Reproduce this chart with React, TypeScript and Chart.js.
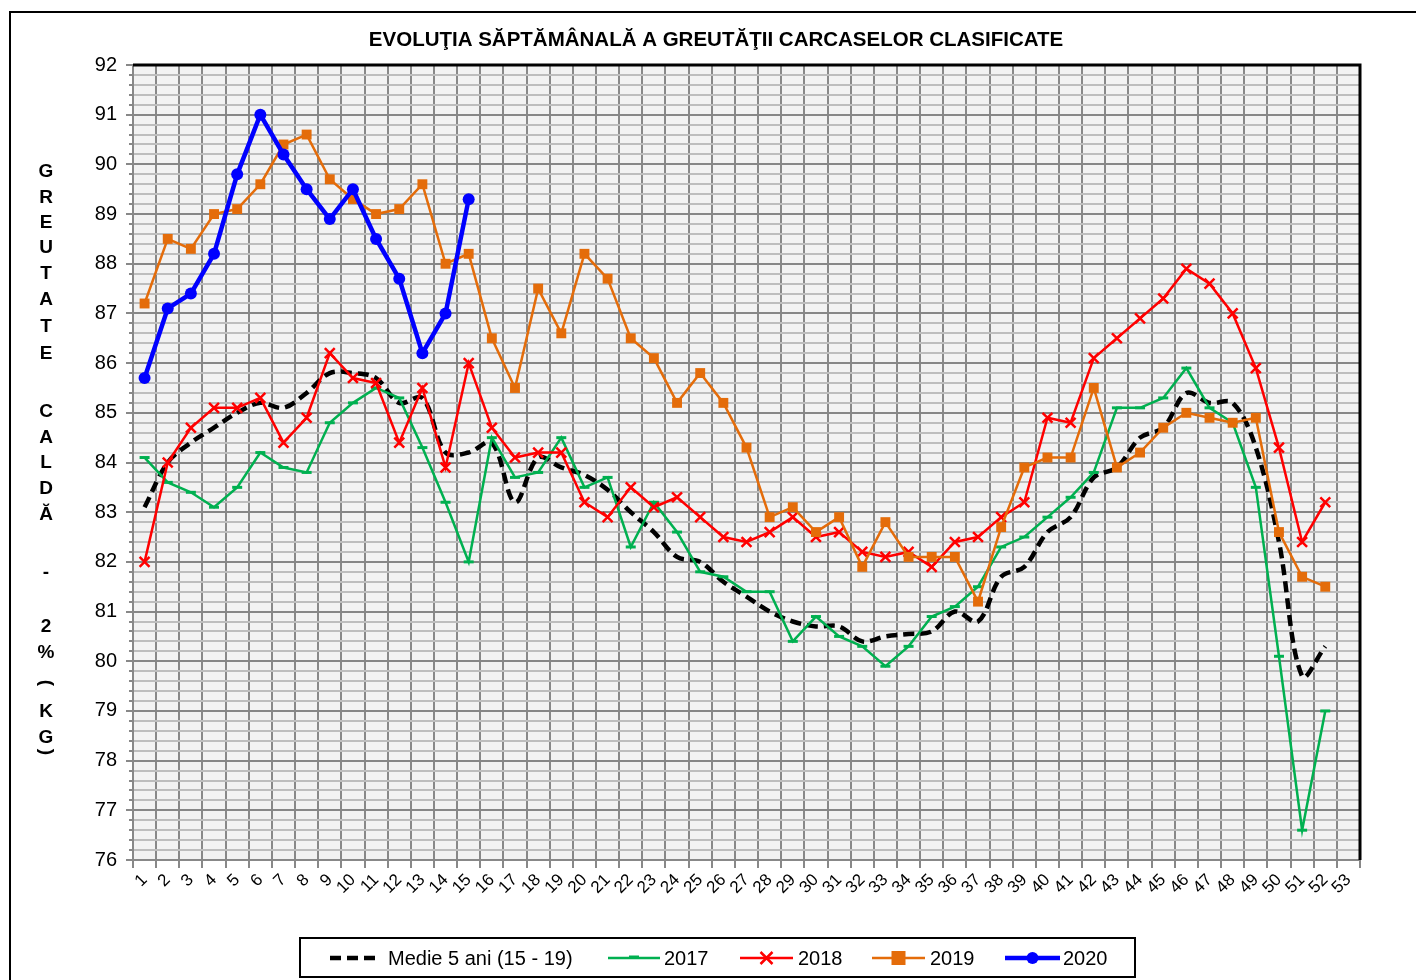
import React, { useEffect, useRef } from 'react';
import { Chart, registerables } from 'chart.js';

Chart.register(...registerables);

const weeks = ['1','2','3','4','5','6','7','8','9','10','11','12','13','14','15','16','17','18','19','20','21','22','23','24','25','26','27','28','29','30','31','32','33','34','35','36','37','38','39','40','41','42','43','44','45','46','47','48','49','50','51','52','53'];

const medie5ani = [83.1, 84.0, 84.4, 84.7, 85.0, 85.2, 85.1, 85.4, 85.8, 85.8, 85.7, 85.2, 85.3, 84.2, 84.2, 84.4, 83.2, 84.1, 83.9, 83.75, 83.45, 83.0, 82.6, 82.1, 82.0, 81.6, 81.3, 81.0, 80.8, 80.7, 80.7, 80.4, 80.5, 80.55, 80.6, 81.0, 80.8, 81.7, 81.9, 82.6, 82.9, 83.7, 83.9, 84.5, 84.7, 85.4, 85.2, 85.2, 84.3, 82.4, 79.7, 80.3];
const y2017 = [84.1, 83.6, 83.4, 83.1, 83.5, 84.2, 83.9, 83.8, 84.8, 85.2, 85.5, 85.3, 84.3, 83.2, 82.0, 84.5, 83.7, 83.8, 84.5, 83.5, 83.7, 82.3, 83.2, 82.6, 81.8, 81.7, 81.4, 81.4, 80.4, 80.9, 80.5, 80.3, 79.9, 80.3, 80.9, 81.1, 81.5, 82.3, 82.5, 82.9, 83.3, 83.8, 85.1, 85.1, 85.3, 85.9, 85.1, 84.8, 83.5, 80.1, 76.6, 79.0];
const y2018 = [82.0, 84.0, 84.7, 85.1, 85.1, 85.3, 84.4, 84.9, 86.2, 85.7, 85.6, 84.4, 85.5, 83.9, 86.0, 84.7, 84.1, 84.2, 84.2, 83.2, 82.9, 83.5, 83.1, 83.3, 82.9, 82.5, 82.4, 82.6, 82.9, 82.5, 82.6, 82.2, 82.1, 82.2, 81.9, 82.4, 82.5, 82.9, 83.2, 84.9, 84.8, 86.1, 86.5, 86.9, 87.3, 87.9, 87.6, 87.0, 85.9, 84.3, 82.4, 83.2];
const y2019 = [87.2, 88.5, 88.3, 89.0, 89.1, 89.6, 90.4, 90.6, 89.7, 89.3, 89.0, 89.1, 89.6, 88.0, 88.2, 86.5, 85.5, 87.5, 86.6, 88.2, 87.7, 86.5, 86.1, 85.2, 85.8, 85.2, 84.3, 82.9, 83.1, 82.6, 82.9, 81.9, 82.8, 82.1, 82.1, 82.1, 81.2, 82.7, 83.9, 84.1, 84.1, 85.5, 83.9, 84.2, 84.7, 85.0, 84.9, 84.8, 84.9, 82.6, 81.7, 81.5];
const y2020 = [85.7, 87.1, 87.4, 88.2, 89.8, 91.0, 90.2, 89.5, 88.9, 89.5, 88.5, 87.7, 86.2, 87.0, 89.3];

const seriesNames = ['Medie 5 ani (15 - 19)', '2017', '2018', '2019', '2020'];
const chartTitle = 'EVOLUŢIA SĂPTĂMÂNALĂ A GREUTĂŢII CARCASELOR CLASIFICATE';
const yTitleChars = ['G','R','E','U','T','A','T','E','C','A','L','D','Ă','-','2','%','(','K','G',')'];

const Y_MIN = 76;
const Y_MAX = 92;

const FONT = '"Liberation Sans", Arial, sans-serif';
const COLORS = ['#000000', '#00B050', '#FF0000', '#E46C0A', '#0000FF'];

const isInt = (v: number) => Math.abs(v - Math.round(v)) < 1e-6;

function drawMarker(ctx: CanvasRenderingContext2D, style: string, x: number, y: number, color: string) {
  ctx.save();
  ctx.setLineDash([]);
  ctx.strokeStyle = color;
  ctx.fillStyle = color;
  if (style === 'rect') {
    ctx.fillRect(x - 7, y - 7, 14, 14);
  } else if (style === 'circle') {
    ctx.beginPath();
    ctx.arc(x, y, 6, 0, Math.PI * 2);
    ctx.fill();
  } else if (style === 'crossRot') {
    ctx.lineWidth = 2.5;
    ctx.beginPath();
    ctx.moveTo(x - 6, y - 6); ctx.lineTo(x + 6, y + 6);
    ctx.moveTo(x + 6, y - 6); ctx.lineTo(x - 6, y + 6);
    ctx.stroke();
  } else if (style === 'line') {
    ctx.lineWidth = 3;
    ctx.beginPath();
    ctx.moveTo(x - 5, y - 1); ctx.lineTo(x + 5, y - 1);
    ctx.stroke();
  }
  ctx.restore();
}

const decorPlugin = {
  id: 'decor',
  beforeDraw(chart: any) {
    const { ctx, chartArea } = chart;
    ctx.save();
    ctx.fillStyle = '#ffffff';
    ctx.fillRect(0, 0, chart.width, chart.height);
    ctx.fillStyle = '#F2F2F2';
    ctx.fillRect(chartArea.left, chartArea.top, chartArea.right - chartArea.left, chartArea.bottom - chartArea.top);
    ctx.restore();
  },
  afterDraw(chart: any) {
    const { ctx, chartArea } = chart;
    ctx.save();

    // minor ticks on the y axis (shorter than the major ones)
    const ys = chart.scales.y;
    ctx.strokeStyle = '#888888';
    ctx.lineWidth = 2;
    ctx.beginPath();
    ys.ticks.forEach((t: any) => {
      if (!isInt(t.value)) {
        const py = Math.round(ys.getPixelForValue(t.value));
        ctx.moveTo(chartArea.left - 4, py);
        ctx.lineTo(chartArea.left, py);
      }
    });
    ctx.stroke();

    // outer frame
    ctx.strokeStyle = '#000';
    ctx.lineWidth = 2;
    ctx.beginPath();
    ctx.moveTo(10, chart.height + 5);
    ctx.lineTo(10, 12);
    ctx.lineTo(chart.width + 5, 12);
    ctx.stroke();

    // plot top & right border
    ctx.lineWidth = 3;
    ctx.beginPath();
    ctx.moveTo(chartArea.left, chartArea.top);
    ctx.lineTo(chartArea.right, chartArea.top);
    ctx.lineTo(chartArea.right, chartArea.bottom);
    ctx.stroke();

    // title
    ctx.fillStyle = '#000';
    ctx.font = 'bold 20.5px ' + FONT;
    ctx.textAlign = 'center';
    ctx.textBaseline = 'middle';
    ctx.fillText(chartTitle, 716, 40);

    // vertical stacked y-axis title
    const yPos = [172, 198, 223, 248, 274, 300, 327, 354, 412, 438, 463, 489, 515, 573, 627, 653, 683, 712, 738, 752];
    ctx.font = 'bold 19px ' + FONT;
    yTitleChars.forEach((ch, i) => {
      const y = yPos[i];
      if (ch === '(' || ch === ')') {
        ctx.save();
        ctx.translate(46, y);
        ctx.rotate(Math.PI / 2);
        ctx.fillText(ch, 0, 0);
        ctx.restore();
      } else {
        ctx.fillText(ch, 46, y);
      }
    });

    // legend
    ctx.lineWidth = 2;
    ctx.strokeStyle = '#000';
    ctx.strokeRect(300, 938, 835, 39);
    const ly = 958;
    const items = [
      { x0: 330, x1: 380, tx: 388, dash: [11, 6], w: 4.5, marker: '' },
      { x0: 608, x1: 660, tx: 664, dash: [], w: 2.5, marker: 'line' },
      { x0: 740, x1: 793, tx: 798, dash: [], w: 2.5, marker: 'crossRot' },
      { x0: 872, x1: 925, tx: 930, dash: [], w: 2.5, marker: 'rect' },
      { x0: 1005, x1: 1060, tx: 1063, dash: [], w: 4.5, marker: 'circle' },
    ];
    ctx.font = '20px ' + FONT;
    ctx.textAlign = 'left';
    items.forEach((it, i) => {
      ctx.save();
      ctx.strokeStyle = COLORS[i];
      ctx.lineWidth = it.w;
      ctx.setLineDash(it.dash);
      ctx.beginPath();
      ctx.moveTo(it.x0, ly);
      ctx.lineTo(it.x1, ly);
      ctx.stroke();
      ctx.restore();
      if (it.marker) drawMarker(ctx, it.marker, (it.x0 + it.x1) / 2, ly, COLORS[i]);
      ctx.fillStyle = '#000';
      ctx.fillText(seriesNames[i], it.tx, ly + 1);
    });
    ctx.restore();
  },
};

export default function App() {
  const canvasRef = useRef<HTMLCanvasElement | null>(null);

  useEffect(() => {
    const canvas = canvasRef.current;
    if (!canvas) return;
    const chart = new Chart(canvas, {
      type: 'line',
      data: {
        labels: weeks,
        datasets: [
          {
            label: seriesNames[0], data: medie5ani, borderColor: COLORS[0], backgroundColor: COLORS[0],
            borderWidth: 4.5, borderDash: [11, 6], pointRadius: 0, tension: 0.35, order: 4,
          },
          {
            label: seriesNames[1], data: y2017, borderColor: COLORS[1], backgroundColor: COLORS[1],
            borderWidth: 2.5, pointStyle: 'line', pointRadius: 5, pointBorderWidth: 3, tension: 0, order: 3,
          },
          {
            label: seriesNames[2], data: y2018, borderColor: COLORS[2], backgroundColor: COLORS[2],
            borderWidth: 2.5, pointStyle: 'crossRot', pointRadius: 7, pointBorderWidth: 2.5, tension: 0, order: 2,
          },
          {
            label: seriesNames[3], data: y2019, borderColor: COLORS[3], backgroundColor: COLORS[3],
            borderWidth: 2.5, pointStyle: 'rect', pointRadius: 7, pointBorderWidth: 0, tension: 0, order: 1,
          },
          {
            label: seriesNames[4], data: y2020, borderColor: COLORS[4], backgroundColor: COLORS[4],
            borderWidth: 4.5, pointStyle: 'circle', pointRadius: 6, pointBorderWidth: 0, tension: 0, order: 0,
          },
        ],
      },
      options: {
        animation: false,
        responsive: false,
        devicePixelRatio: 1,
        layout: { padding: { left: 0, top: 65, right: 56, bottom: 60 } },
        plugins: {
          legend: { display: false },
          title: { display: false },
          tooltip: { enabled: false },
        },
        scales: {
          x: {
            type: 'category',
            offset: true,
            grid: { offset: true, color: '#888888', lineWidth: 2, tickLength: 8, tickColor: '#888888' },
            border: { color: '#888888', width: 2 },
            ticks: {
              autoSkip: false, maxRotation: 45, minRotation: 45, padding: 2,
              color: '#000', font: { size: 17, family: FONT },
            },
            afterFit: (scale: any) => { scale.height = 60; },
          },
          y: {
            min: Y_MIN,
            max: Y_MAX,
            grid: {
              color: (c: any) => (isInt(c.tick.value) ? '#878787' : '#BDBDBD'),
              lineWidth: 2,
              tickLength: 7,
              tickColor: (c: any) => (isInt(c.tick.value) ? '#888888' : 'rgba(0,0,0,0)'),
            },
            border: { color: '#888888', width: 2 },
            ticks: {
              stepSize: 0.2,
              autoSkip: false,
              padding: 9,
              color: '#000',
              font: { size: 20, family: FONT },
              callback: (v: any) => (isInt(Number(v)) ? String(Math.round(Number(v))) : ''),
            },
            afterFit: (scale: any) => { scale.width = 133; },
          },
        },
      },
      plugins: [decorPlugin],
    });
    return () => chart.destroy();
  }, []);

  return (
    <div style={{ position: 'absolute', left: 0, top: 0, width: 1416, height: 980, overflow: 'hidden' }}>
      <canvas ref={canvasRef} width={1416} height={980} style={{ width: 1416, height: 980, display: 'block' }} />
    </div>
  );
}
